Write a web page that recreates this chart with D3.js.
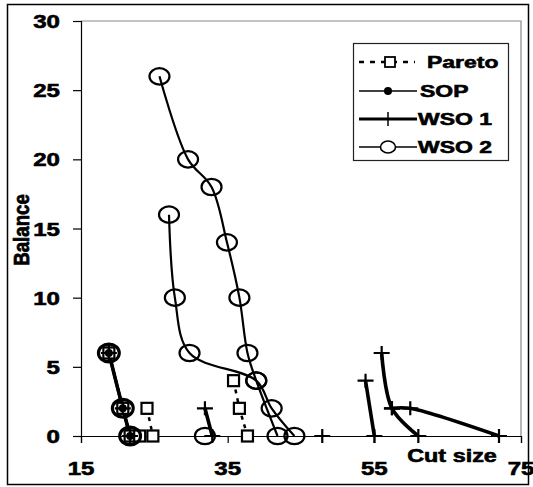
<!DOCTYPE html>
<html>
<head>
<meta charset="utf-8">
<script src="https://cdn.jsdelivr.net/npm/d3@7"></script>
<style>
  body { margin: 0; background: #fff; }
  text { font-family: Arial, "Liberation Sans", sans-serif; font-weight: bold; fill: #000; stroke: #000; stroke-width: 0.6px; }
</style>
</head>
<body>
<div id="chart"></div>
<script>
  // tick values
  var xTicks = [15, 35, 55, 75];
  var yTicks = [0, 5, 10, 15, 20, 25, 30];

  // Pareto points (groups of cut size / balance)
  var pareto1X = [18.8, 20.7, 21.7], pareto1Y = [6, 2, 0];
  var pareto2X = [24.0, 24.8], pareto2Y = [2, 0];
  var pareto3X = [23.0], pareto3Y = [0];
  var pareto4X = [35.8, 36.6, 37.7], pareto4Y = [4, 2, 0];

  // SOP
  var sop1X = [18.8, 20.7, 21.7], sop1Y = [6, 2, 0];

  // WSO 1
  var wso1aX = [18.8, 20.7, 21.7], wso1aY = [6, 2, 0];
  var wso1bX = [31.9, 32.9], wso1bY = [2, 0];
  var wso1cX = [47.9], wso1cY = [0];
  var wso1dX = [53.8, 55.0], wso1dY = [4, 0];
  var wso1eX = [56.0, 57.4, 61.0], wso1eY = [6, 2, 0];
  var wso1fX = [57.4, 59.9, 72.0], wso1fY = [2, 2, 0];

  // WSO 2
  var wso2aX = [18.8, 20.7, 21.7], wso2aY = [6, 2, 0];
  var wso2bX = [25.7, 29.6, 32.8, 34.9, 36.6, 37.7, 38.9, 41.8], wso2bY = [26, 20, 18, 14, 10, 6, 4, 0];
  var wso2cX = [27.0, 27.8, 29.8, 38.9, 41.0, 44.1], wso2cY = [16, 10, 6, 4, 2, 0];
  var wso2dX = [31.9], wso2dY = [0];

  var legendNames = ["Pareto", "SOP", "WSO 1", "WSO 2"];

  function zip(xs, ys) {
    return xs.map(function(x, i) { return {x: x, y: ys[i]}; });
  }

  var paretoGroups = [zip(pareto1X, pareto1Y), zip(pareto2X, pareto2Y), zip(pareto3X, pareto3Y), zip(pareto4X, pareto4Y)];
  var sopGroups = [zip(sop1X, sop1Y)];
  var wso1Groups = [zip(wso1aX, wso1aY), zip(wso1bX, wso1bY), zip(wso1cX, wso1cY), zip(wso1dX, wso1dY), zip(wso1eX, wso1eY), zip(wso1fX, wso1fY)];
  var wso2Groups = [zip(wso2aX, wso2aY), zip(wso2bX, wso2bY), zip(wso2cX, wso2cY), zip(wso2dX, wso2dY)];

  // the picture is stretched sideways, so text gets a horizontal scale
  var stretch = 1.3;

  var svg = d3.select("#chart").append("svg")
      .attr("width", 533)
      .attr("height", 487);

  // outer frame
  svg.append("rect")
    .attr("x", 7.5).attr("y", 4.5)
    .attr("width", 521).attr("height", 480)
    .attr("fill", "none")
    .attr("stroke", "#000")
    .attr("stroke-width", 1.5);

  //Creates scales
  var xScale = d3.scaleLinear().domain([15, 75]).range([81, 521]);
  var yScale = d3.scaleLinear().domain([0, 30]).range([436, 21]);

  // grey plot border top / right
  svg.append("path")
    .attr("d", "M" + xScale(15) + "," + yScale(30) + "H" + xScale(75) + "V" + yScale(0))
    .attr("fill", "none")
    .attr("stroke", "#888")
    .attr("stroke-width", 1.2);

  //Appends axes
  var yAxis = d3.axisLeft(yScale).tickValues(yTicks).tickSize(8).tickFormat("");
  var xAxis = d3.axisBottom(xScale).tickValues(xTicks).tickSize(7).tickFormat("");

  svg.append("g")
    .attr("transform", "translate(" + xScale(15) + ",0)")
    .call(yAxis)
    .call(function(g) { g.selectAll("path, line").attr("stroke", "#000").attr("stroke-width", 1.2); });

  svg.append("g")
    .attr("transform", "translate(0," + yScale(0) + ")")
    .call(xAxis)
    .call(function(g) { g.selectAll("path, line").attr("stroke", "#000").attr("stroke-width", 1.2); });

  // tick labels
  svg.selectAll(".ylab").data(yTicks).enter().append("text")
    .attr("class", "ylab")
    .attr("transform", function(d) { return "translate(60," + (yScale(d) + 7) + ") scale(" + stretch + ",1)"; })
    .attr("text-anchor", "end")
    .style("font-size", "18.5px")
    .text(function(d) { return d; });

  svg.selectAll(".xlab").data(xTicks).enter().append("text")
    .attr("class", "xlab")
    .attr("transform", function(d) { return "translate(" + xScale(d) + ",475) scale(" + stretch + ",1)"; })
    .attr("text-anchor", "middle")
    .style("font-size", "18.5px")
    .text(function(d) { return d; });

  // axis titles
  svg.append("text")
    .attr("transform", "translate(452,462) scale(" + stretch + ",1)")
    .attr("text-anchor", "middle")
    .style("font-size", "18px")
    .text("Cut size");

  svg.append("text")
    .attr("transform", "translate(29,230) rotate(-90) scale(1.1,1.25)")
    .attr("text-anchor", "middle")
    .style("font-size", "17px")
    .text("Balance");

  //Sets line function
  var smooth = d3.line()
      .curve(d3.curveCatmullRom.alpha(0.5))
      .x(function(d) { return xScale(d.x); })
      .y(function(d) { return yScale(d.y); });

  var straight = d3.line()
      .x(function(d) { return xScale(d.x); })
      .y(function(d) { return yScale(d.y); });

  var plot = svg.append("g");

  // marker drawing helpers
  function square(g, cx, cy) {
    g.append("rect")
      .attr("x", cx - 5.5).attr("y", cy - 5.5)
      .attr("width", 11).attr("height", 11)
      .attr("fill", "#fff").attr("stroke", "#000").attr("stroke-width", 2.2);
  }
  function dot(g, cx, cy) {
    g.append("circle")
      .attr("cx", cx).attr("cy", cy).attr("r", 4)
      .attr("fill", "#000");
  }
  function plus(g, cx, cy) {
    g.append("path")
      .attr("d", "M" + (cx - 8) + "," + cy + "H" + (cx + 8) + "M" + cx + "," + (cy - 7) + "V" + (cy + 7))
      .attr("stroke", "#000").attr("stroke-width", 2.2);
  }
  function ring(g, cx, cy) {
    g.append("ellipse")
      .attr("cx", cx).attr("cy", cy).attr("rx", 10).attr("ry", 8.2)
      .attr("fill", "none").attr("stroke", "#000").attr("stroke-width", 2.2);
  }

  // WSO 2 lines and circles
  wso2Groups.forEach(function(grp) {
    plot.append("path").datum(grp)
      .attr("d", smooth)
      .attr("fill", "none").attr("stroke", "#000").attr("stroke-width", 2.2);
  });

  // WSO 1 lines
  wso1Groups.forEach(function(grp) {
    plot.append("path").datum(grp)
      .attr("d", smooth)
      .attr("fill", "none").attr("stroke", "#000").attr("stroke-width", 3.6);
  });

  // SOP lines
  sopGroups.forEach(function(grp) {
    plot.append("path").datum(grp)
      .attr("d", smooth)
      .attr("fill", "none").attr("stroke", "#000").attr("stroke-width", 3);
  });

  // Pareto dotted lines
  paretoGroups.forEach(function(grp) {
    plot.append("path").datum(grp)
      .attr("d", straight)
      .attr("fill", "none").attr("stroke", "#000").attr("stroke-width", 2.5)
      .attr("stroke-dasharray", "4,5");
  });

  // markers
  paretoGroups.forEach(function(grp) {
    grp.forEach(function(d) { square(plot, xScale(d.x), yScale(d.y)); });
  });
  wso2Groups.forEach(function(grp) {
    grp.forEach(function(d) { ring(plot, xScale(d.x), yScale(d.y)); });
  });
  wso1Groups.forEach(function(grp) {
    grp.forEach(function(d) { plus(plot, xScale(d.x), yScale(d.y)); });
  });
  sopGroups.forEach(function(grp) {
    grp.forEach(function(d) {
      dot(plot, xScale(d.x), yScale(d.y));
      plot.append("ellipse")
        .attr("cx", xScale(d.x)).attr("cy", yScale(d.y)).attr("rx", 11).attr("ry", 9.5)
        .attr("fill", "none").attr("stroke", "#000").attr("stroke-width", 2);
    });
  });

  // legend
  var legend = svg.append("g");
  legend.append("rect")
    .attr("x", 353.5).attr("y", 43.5)
    .attr("width", 155).attr("height", 117)
    .attr("fill", "#fff").attr("stroke", "#222").attr("stroke-width", 1.2);

  var rowY = [62, 91, 119, 147];
  var textX = [427, 420, 418, 418];

  legendNames.forEach(function(name, i) {
    var y = rowY[i];
    var line = legend.append("line")
      .attr("x1", 359).attr("x2", 417)
      .attr("y1", y).attr("y2", y)
      .attr("stroke", "#000");
    if (i === 0) {
      line.attr("x2", 415).attr("stroke-width", 2.5).attr("stroke-dasharray", "5,6");
      legend.append("rect")
        .attr("x", 385).attr("y", y - 5).attr("width", 10).attr("height", 10)
        .attr("fill", "#fff").attr("stroke", "#000").attr("stroke-width", 1.8);
    } else if (i === 1) {
      line.attr("stroke-width", 1.6);
      dot(legend, 388, y);
    } else if (i === 2) {
      line.attr("stroke-width", 2.8);
      legend.append("line")
        .attr("x1", 388).attr("x2", 388).attr("y1", y - 7).attr("y2", y + 7)
        .attr("stroke", "#000").attr("stroke-width", 1.5);
    } else {
      line.attr("stroke-width", 1.6);
      legend.append("ellipse")
        .attr("cx", 388).attr("cy", y).attr("rx", 7.5).attr("ry", 6)
        .attr("fill", "#fff").attr("stroke", "#000").attr("stroke-width", 1.6);
    }
    legend.append("text")
      .attr("transform", "translate(" + textX[i] + "," + (y + 6) + ") scale(1.35,1)")
      .style("font-size", "17px")
      .text(name);
  });
</script>
</body>
</html>
